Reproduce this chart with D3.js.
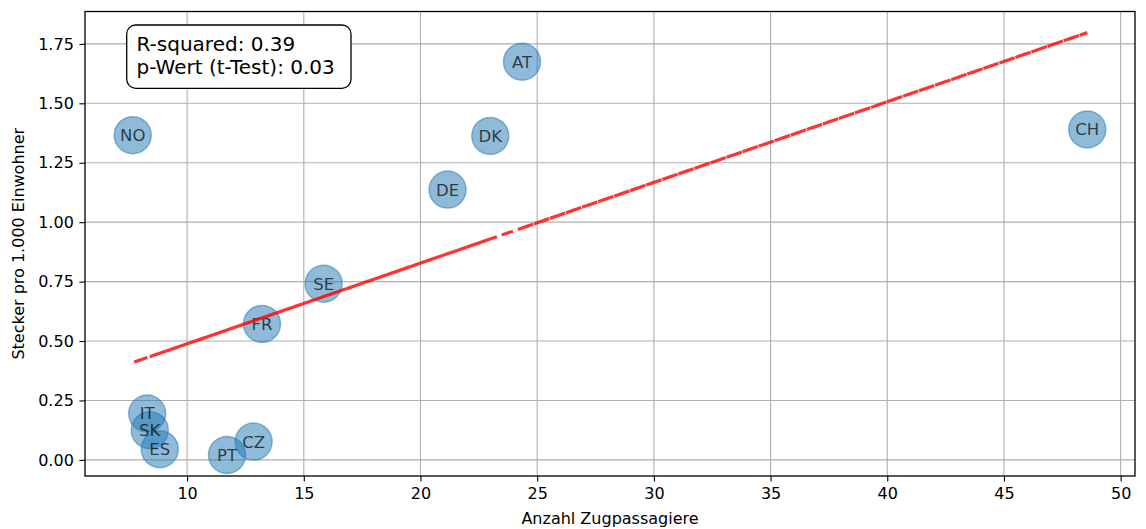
<!DOCTYPE html>
<html><head><meta charset="utf-8">
<script src="https://cdn.jsdelivr.net/npm/d3@7"></script>
<style>
body{margin:0;background:#fff;}
svg{display:block;font-family:"DejaVu Sans",sans-serif;}
</style></head>
<body><svg id="c" width="1146" height="529"></svg>
<script>
const countries = ["AT","CH","CZ","DE","DK","ES","FR","IT","NO","PT","SE","SK"];
const passengers = [24.35,48.57,12.85,21.16,22.99,8.83,13.21,8.29,7.67,11.71,15.85,8.40];
const plugs = [1.675,1.390,0.077,1.137,1.363,0.045,0.572,0.195,1.366,0.021,0.741,0.125];
const xTicks = [10,15,20,25,30,35,40,45,50];
const yTicks = [0,0.25,0.5,0.75,1.0,1.25,1.5,1.75];
const statsLines = ["R-squared: 0.39","p-Wert (t-Test): 0.03"];
const xLabel = "Anzahl Zugpassagiere";
const yLabel = "Stecker pro 1.000 Einwohner";

const svg = d3.select("#c");
const L=85, R=1135, T=11.5, B=476;

// least squares fit
const n = passengers.length;
const mx = d3.mean(passengers), my = d3.mean(plugs);
let sxy=0, sxx=0;
for(let i=0;i<n;i++){sxy+=(passengers[i]-mx)*(plugs[i]-my); sxx+=(passengers[i]-mx)**2;}
const slope = sxy/sxx, intercept = my - slope*mx;
const fit = passengers.map(x=>intercept+slope*x);

const xmin=d3.min(passengers), xmax=d3.max(passengers);
const allY = plugs.concat(fit);
const ymin=d3.min(allY), ymax=d3.max(allY);
const xm=(xmax-xmin)*0.05, ym=(ymax-ymin)*0.05;
const x = d3.scaleLinear().domain([xmin-xm, xmax+xm]).range([L,R]);
const y = d3.scaleLinear().domain([ymin-ym, ymax+ym]).range([B,T]);

// grid
const g = svg.append("g");
g.selectAll(".gx").data(xTicks).enter().append("line")
  .attr("x1",d=>x(d)).attr("x2",d=>x(d)).attr("y1",T).attr("y2",B)
  .attr("stroke","#b0b0b0").attr("stroke-width",1.1);
g.selectAll(".gy").data(yTicks).enter().append("line")
  .attr("y1",d=>y(d)).attr("y2",d=>y(d)).attr("x1",L).attr("x2",R)
  .attr("stroke","#b0b0b0").attr("stroke-width",1.1);

// axes
const xAxis = svg.append("g").attr("transform",`translate(0,${B})`)
  .call(d3.axisBottom(x).tickValues(xTicks).tickFormat(d3.format("d")).tickSizeOuter(0).tickSize(5.6).tickPadding(5.6));
const yAxis = svg.append("g").attr("transform",`translate(${L},0)`)
  .call(d3.axisLeft(y).tickValues(yTicks).tickFormat(d3.format(".2f")).tickSizeOuter(0).tickSize(5.6).tickPadding(5.6));
[xAxis,yAxis].forEach(a=>{
  a.select(".domain").remove();
  a.selectAll("text").attr("font-size","16px").attr("fill","#000").attr("font-family","DejaVu Sans");
  a.selectAll("line").attr("stroke","#000").attr("stroke-width",1.1);
});

// scatter
const pts = svg.append("g");
countries.forEach((c,i)=>{
  pts.append("circle").attr("cx",x(passengers[i])).attr("cy",y(plugs[i])).attr("r",18.5)
    .attr("fill","#1f77b4").attr("fill-opacity",0.5)
    .attr("stroke","#1f77b4").attr("stroke-opacity",0.5).attr("stroke-width",1.5);
});
countries.forEach((c,i)=>{
  pts.append("text").attr("x",x(passengers[i])).attr("y",y(plugs[i]))
    .attr("text-anchor","middle").attr("dy","0.36em")
    .attr("font-size","16.5px").attr("fill","#000").attr("fill-opacity",0.7).text(c);
});

// regression line (drawn through points in data order, dashed)
const line = d3.line().x((d,i)=>x(passengers[i])).y(d=>y(d));
svg.append("path").datum(fit).attr("d",line)
  .attr("fill","none").attr("stroke","#ff0000").attr("stroke-opacity",0.8)
  .attr("stroke-width",3.2).attr("stroke-dasharray","11.8,5.183");

// frame
svg.append("rect").attr("x",L).attr("y",T).attr("width",R-L).attr("height",B-T)
  .attr("fill","none").attr("stroke","#000").attr("stroke-width",1.3);

// stats box
svg.append("rect").attr("x",126.7).attr("y",25).attr("width",224.3).attr("height",63.3)
  .attr("rx",9).attr("ry",9).attr("fill","#fff").attr("stroke","#000").attr("stroke-width",1.3);
svg.selectAll(".st").data(statsLines).enter().append("text")
  .attr("x",136.5).attr("y",(d,i)=>50.7+i*23.6)
  .attr("font-size","20px").attr("fill","#000").text(d=>d);

// axis labels
svg.append("text").attr("x",(L+R)/2).attr("y",524).attr("text-anchor","middle")
  .attr("font-size","16px").attr("fill","#000").text(xLabel);
svg.append("text").attr("transform",`translate(24,${(T+B)/2}) rotate(-90)`).attr("text-anchor","middle")
  .attr("font-size","16px").attr("fill","#000").text(yLabel);
</script></body></html>
